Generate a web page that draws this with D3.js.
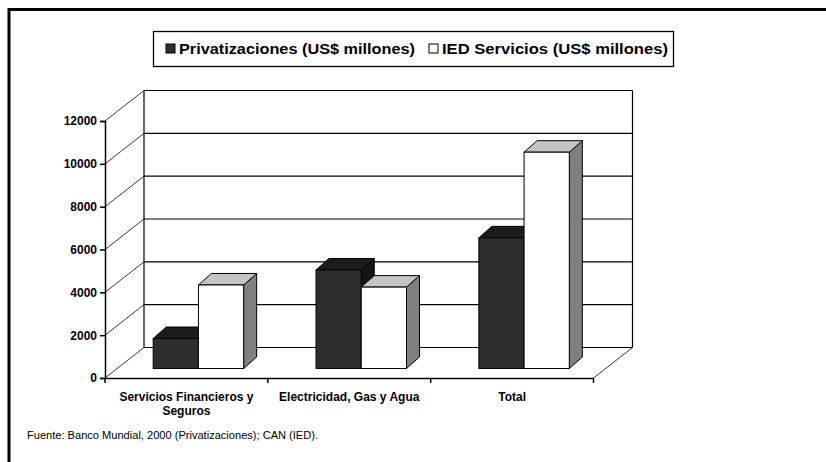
<!DOCTYPE html>
<html>
<head>
<meta charset="utf-8">
<script src="https://cdn.jsdelivr.net/npm/d3@7/dist/d3.min.js"></script>
<style>
  html, body { margin: 0; padding: 0; background: #ffffff; }
  svg { display: block; font-family: "Liberation Sans", Arial, sans-serif; }
</style>
</head>
<body>
<svg id="chart" width="826" height="462"></svg>
<script>
// Sector categories (two-line labels use "\n")
const categories = ["Servicios Financieros y\nSeguros", "Electricidad, Gas y Agua", "Total"];
const seriesNames = ["Privatizaciones (US$ millones)", "IED Servicios (US$ millones)"];
const privatizaciones = [1400, 4600, 6100];
const iedServicios = [3900, 3800, 10100];
const yTicks = [0, 2000, 4000, 6000, 8000, 10000, 12000];
const sourceNote = "Fuente: Banco Mundial, 2000 (Privatizaciones); CAN (IED).";

const svg = d3.select("#chart");

// Outer frame (top and left edges)
svg.append("path")
  .attr("d", "M9,470 L9,9.5 L830,9.5")
  .attr("fill", "none").attr("stroke", "#000").attr("stroke-width", 3);

// 3D projection geometry
const wallDx = 39, wallDy = -30.5;      // depth of the floor / side wall
const barDx = 12, barDy = -9.5;         // bars sit part-way back into the depth
const barDepthDx = 13, barDepthDy = -11.5;

const y = d3.scaleLinear().domain([0, 12000]).range([378, 121]);
const x = d3.scaleBand().domain(categories).range([105, 593.5]).paddingInner(0).paddingOuter(0);
const xs = d3.scaleBand().domain(seriesNames).range([0, x.bandwidth()]).paddingInner(0).paddingOuter(0.8);

const x0 = x.range()[0], x1 = x.range()[1];
const g = svg.append("g");

// Back wall gridlines and side-wall diagonals
yTicks.forEach(v => {
  g.append("line")
    .attr("x1", x0 + wallDx).attr("x2", x1 + wallDx)
    .attr("y1", y(v) + wallDy).attr("y2", y(v) + wallDy)
    .attr("stroke", "#000").attr("stroke-width", 1.1);
  g.append("line")
    .attr("x1", x0).attr("y1", y(v))
    .attr("x2", x0 + wallDx).attr("y2", y(v) + wallDy)
    .attr("stroke", "#222").attr("stroke-width", 0.9);
});
// Back wall vertical edges
[x0 + wallDx, x1 + wallDx].forEach(xx => {
  g.append("line")
    .attr("x1", xx).attr("x2", xx)
    .attr("y1", y(12000) + wallDy).attr("y2", y(0) + wallDy)
    .attr("stroke", "#000").attr("stroke-width", 1.2);
});
// Floor right edge
g.append("line")
  .attr("x1", x1).attr("y1", y(0))
  .attr("x2", x1 + wallDx).attr("y2", y(0) + wallDy)
  .attr("stroke", "#222").attr("stroke-width", 0.9);

// Bars
const series = [
  { name: seriesNames[0], values: privatizaciones, front: "#2e2e2e", top: "#1c1c1c", side: "#151515" },
  { name: seriesNames[1], values: iedServicios, front: "#ffffff", top: "#c4c4c4", side: "#808080" }
];

categories.forEach((c, i) => {
  series.forEach(s => {
    const v = s.values[i];
    const bx = x(c) + xs(s.name) + barDx;
    const bw = xs.bandwidth();
    const yb = y(0) + barDy;
    const yt = y(v) + barDy;
    const bar = g.append("g");
    // side face
    bar.append("path")
      .attr("d", `M${bx + bw},${yt} L${bx + bw + barDepthDx},${yt + barDepthDy} L${bx + bw + barDepthDx},${yb + barDepthDy} L${bx + bw},${yb} Z`)
      .attr("fill", s.side).attr("stroke", "#000").attr("stroke-width", 1).attr("stroke-linejoin", "round");
    // top face
    bar.append("path")
      .attr("d", `M${bx},${yt} L${bx + barDepthDx},${yt + barDepthDy} L${bx + bw + barDepthDx},${yt + barDepthDy} L${bx + bw},${yt} Z`)
      .attr("fill", s.top).attr("stroke", "#000").attr("stroke-width", 1).attr("stroke-linejoin", "round");
    // front face
    bar.append("rect")
      .attr("x", bx).attr("y", yt).attr("width", bw).attr("height", yb - yt)
      .attr("fill", s.front).attr("stroke", "#000").attr("stroke-width", 1);
  });
});

// Value axis
const yAxis = d3.axisLeft(y).tickValues(yTicks).tickSize(5).tickPadding(3).tickFormat(d3.format("d"));
const ya = svg.append("g").attr("transform", `translate(${x0},0)`).call(yAxis);
ya.select(".domain").attr("stroke", "#000").attr("stroke-width", 1.5);
ya.selectAll(".tick line").attr("stroke", "#000").attr("stroke-width", 1.5);
ya.selectAll(".tick text").attr("fill", "#000").attr("font-size", 12).attr("font-weight", "bold")
  .attr("font-family", "'Liberation Sans', Arial, sans-serif");

// Category axis
const xAxis = d3.axisBottom(x).tickSize(0).tickFormat("");
const xa = svg.append("g").attr("transform", `translate(0,${y(0)})`).call(xAxis);
xa.select(".domain").attr("stroke", "#000").attr("stroke-width", 1.5);
// Boundary ticks between categories
const bounds = categories.map(c => x(c)).concat([x1]);
bounds.forEach(b => {
  xa.append("line").attr("x1", b).attr("x2", b).attr("y1", 0).attr("y2", 5)
    .attr("stroke", "#000").attr("stroke-width", 1.5);
});
// Category labels
categories.forEach(c => {
  const lines = c.split("\n");
  const t = svg.append("text")
    .attr("x", x(c) + x.bandwidth() / 2).attr("y", 401)
    .attr("text-anchor", "middle").attr("font-size", 12).attr("font-weight", "bold").attr("fill", "#000");
  lines.forEach((ln, k) => {
    t.append("tspan").attr("x", x(c) + x.bandwidth() / 2).attr("dy", k === 0 ? 0 : 14).text(ln);
  });
});

// Legend
const lg = svg.append("g");
lg.append("rect").attr("x", 153.5).attr("y", 31.5).attr("width", 520).attr("height", 35)
  .attr("fill", "#fff").attr("stroke", "#000").attr("stroke-width", 1.3);
const legendItems = [
  { name: seriesNames[0], fill: "#2e2e2e", mx: 166, tx: 179, tw: 236 },
  { name: seriesNames[1], fill: "#ffffff", mx: 429, tx: 442, tw: 226 }
];
legendItems.forEach(it => {
  lg.append("rect").attr("x", it.mx).attr("y", 44).attr("width", 9).attr("height", 9)
    .attr("fill", it.fill).attr("stroke", "#000").attr("stroke-width", 1);
  lg.append("text").attr("x", it.tx).attr("y", 54)
    .attr("font-size", 14).attr("font-weight", "bold").attr("fill", "#000")
    .attr("textLength", it.tw).attr("lengthAdjust", "spacingAndGlyphs")
    .text(it.name);
});

// Source note
svg.append("text").attr("x", 27).attr("y", 439)
  .attr("font-size", 10).attr("fill", "#000")
  .attr("textLength", 291).attr("lengthAdjust", "spacingAndGlyphs")
  .text(sourceNote);
</script>
</body>
</html>
